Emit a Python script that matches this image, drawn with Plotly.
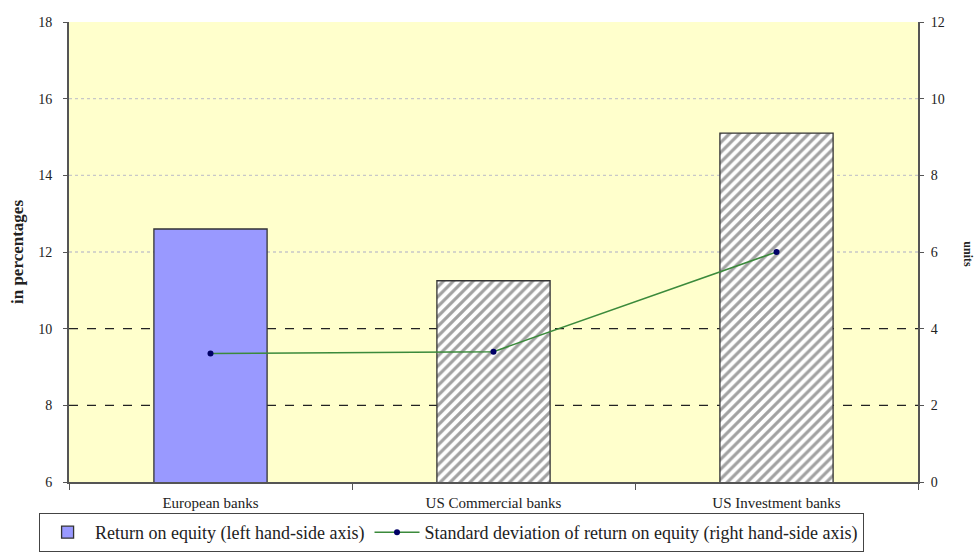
import plotly.graph_objects as go

# Bank groups and their return-on-equity figures (left axis, %)
categories = ["European banks", "US Commercial banks", "US Investment banks"]
roe_values = [12.6, 11.25, 15.1]
# Standard deviation of ROE (right axis, units)
roe_std_values = [3.35, 3.4, 6.0]

left_ticks = [6, 8, 10, 12, 14, 16, 18]
right_ticks = [0, 2, 4, 6, 8, 10, 12]

SERIF = "Liberation Serif"

fig = go.Figure()

fig.add_trace(go.Bar(
    x=categories,
    y=roe_values,
    name="Return on equity (left hand-side axis)",
    marker=dict(
        color=["#9999FF", "#FFFFFF", "#FFFFFF"],
        line=dict(color="#333333", width=1.3),
        pattern=dict(
            shape=["", "/", "/"],
            fgcolor="#8c8c8c",
            bgcolor=["#9999FF", "#FFFFFF", "#FFFFFF"],
            size=7,
            solidity=0.45,
        ),
    ),
    yaxis="y",
))

fig.add_trace(go.Scatter(
    x=categories,
    y=roe_std_values,
    name="Standard deviation of return on equity (right hand-side axis)",
    mode="lines+markers",
    line=dict(color="#3b8a3b", width=1.5),
    marker=dict(color="#000066", size=6, symbol="circle"),
    yaxis="y2",
))

# Horizontal reference lines across the plot area
shapes = []
for v in [8, 10]:
    shapes.append(dict(type="line", xref="paper", yref="y", x0=0, x1=1, y0=v, y1=v,
                       line=dict(color="#222222", width=1.3, dash="dash"), layer="below"))
for v in [12, 14, 16]:
    shapes.append(dict(type="line", xref="paper", yref="y", x0=0, x1=1, y0=v, y1=v,
                       line=dict(color="#c8c8c8", width=1.3, dash="dot"), layer="below"))

fig.update_layout(
    width=977,
    height=552,
    margin=dict(l=69, r=59, t=22, b=70),
    paper_bgcolor="#FFFFFF",
    plot_bgcolor="#FFFFCC",
    bargap=0.6,
    font=dict(family=SERIF, color="#222222", size=12),
    shapes=shapes,
    xaxis=dict(
        automargin=False,
        showline=True, linecolor="#555555", linewidth=2,
        ticks="outside", tickson="boundaries", ticklen=6, tickcolor="#555555",
        showgrid=False,
        ticklabelstandoff=6,
        tickfont=dict(family=SERIF, size=15, color="#222222"),
    ),
    yaxis=dict(
        range=[6, 18], tickvals=left_ticks,
        showline=True, linecolor="#555555", linewidth=2,
        ticks="outside", ticklen=4, tickcolor="#555555",
        showgrid=False, zeroline=False,
        ticklabelstandoff=8,
        tickfont=dict(family=SERIF, size=14, color="#222222"),
        title=dict(text="<b>in percentages</b>", font=dict(family=SERIF, size=17, color="#222222"),
                   standoff=10),
    ),
    yaxis2=dict(
        range=[0, 12], tickvals=right_ticks,
        overlaying="y", side="right",
        showline=True, linecolor="#555555", linewidth=2,
        ticks="outside", ticklen=4, tickcolor="#555555",
        showgrid=False, zeroline=False,
        ticklabelstandoff=4,
        tickfont=dict(family=SERIF, size=14, color="#222222"),
    ),
    legend=dict(
        orientation="h",
        xref="container", yref="container",
        x=0.04, xanchor="left",
        y=0.0, yanchor="bottom",
        bgcolor="#FFFFFF",
        bordercolor="#444444", borderwidth=1,
        font=dict(family=SERIF, size=18, color="#222222"),
        itemwidth=45,
        traceorder="normal",
    ),
    annotations=[
        dict(text="<b>units</b>", xref="paper", yref="paper", x=1.0695, y=0.495,
             xanchor="right", yanchor="middle", textangle=90, showarrow=False,
             font=dict(family=SERIF, size=12, color="#222222")),
    ],
)

fig.write_html("out.html")
